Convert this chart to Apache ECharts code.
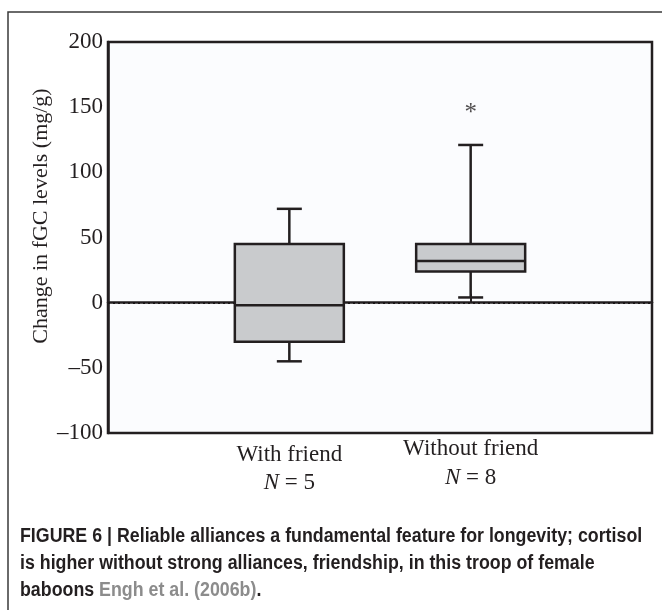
<!DOCTYPE html>
<html>
<head>
<meta charset="utf-8">
<script src="https://cdn.jsdelivr.net/npm/echarts@6/dist/echarts.min.js"></script>
<style>
html,body{margin:0;padding:0;background:#fff;}
#chart{width:662px;height:610px;}
</style>
</head>
<body>
<div id="chart"></div>
<script>
//分组名称及样本数
var groups=['With friend','Without friend'];
var groupN=[5,8];
//箱线图数据 [min, Q1, median, Q3, max]
var withFriend=[-45,-30,-2,45,72];
var withoutFriend=[4,24,32,45,121];
//离群点(星号) [组序号, 数值]
var outlier=[2,145];
//纵轴刻度
var yMin=-100, yMax=200, yStep=50;
//基线
var zeroLine=0;

var dark='#231f20';
var serif='"Liberation Serif","Times New Roman",serif';
var sans='"Liberation Sans",Arial,sans-serif';

/*
*箱体绘制
*/
function renderBox(params,api){
	var x=api.value(0);
	var lo=api.coord([x,api.value(1)]);
	var q1=api.coord([x,api.value(2)]);
	var med=api.coord([x,api.value(3)]);
	var q3=api.coord([x,api.value(4)]);
	var hi=api.coord([x,api.value(5)]);
	var hw=54.5, cw=12.5;
	var st={stroke:dark,lineWidth:2.5,fill:null};
	return {type:'group',children:[
		{type:'line',shape:{x1:lo[0],y1:lo[1],x2:q1[0],y2:q1[1]},style:st},
		{type:'line',shape:{x1:q3[0],y1:q3[1],x2:hi[0],y2:hi[1]},style:st},
		{type:'line',shape:{x1:lo[0]-cw,y1:lo[1],x2:lo[0]+cw,y2:lo[1]},style:st},
		{type:'line',shape:{x1:hi[0]-cw,y1:hi[1],x2:hi[0]+cw,y2:hi[1]},style:st},
		{type:'rect',shape:{x:q3[0]-hw,y:q3[1],width:hw*2,height:q1[1]-q3[1]},
			style:{fill:'#c9cbcd',stroke:dark,lineWidth:2.5}},
		{type:'line',shape:{x1:med[0]-hw,y1:med[1],x2:med[0]+hw,y2:med[1]},style:st}
	]};
}

var cats=[''].concat(groups).concat(['']);
var boxData=[[1].concat(withFriend),[2].concat(withoutFriend)];

var chart=echarts.init(document.getElementById('chart'));
var option={
	backgroundColor:'#fff',
	animation:false,
	grid:{left:108,top:42,right:10,bottom:177,show:true,backgroundColor:'#fbfcfe',
		borderColor:dark,borderWidth:2.5},
	xAxis:{
		type:'category',data:cats,boundaryGap:false,
		axisLine:{lineStyle:{color:dark,width:2.5}},
		axisTick:{inside:true,length:9,lineStyle:{color:dark,width:2},
			interval:function(i){return i===1||i===2;}},
		axisLabel:{
			interval:0,margin:8,color:dark,
			formatter:function(v){
				var i=groups.indexOf(v);
				if(i<0){return '';}
				//第二组标签略高
				if(i===1){
					return '{t1|'+v+'}\n{n2|N}{t2| = '+groupN[i]+'}';
				}
				return '{t|'+v+'}\n{n|N}{t| = '+groupN[i]+'}';
			},
			rich:{
				t:{fontFamily:serif,fontSize:23,lineHeight:28,color:dark},
				n:{fontFamily:serif,fontSize:23,lineHeight:28,fontStyle:'italic',color:dark},
				t1:{fontFamily:serif,fontSize:23,lineHeight:16,color:dark},
				t2:{fontFamily:serif,fontSize:23,lineHeight:42,color:dark},
				n2:{fontFamily:serif,fontSize:23,lineHeight:42,fontStyle:'italic',color:dark}
			}
		},
		splitLine:{show:false}
	},
	yAxis:{
		type:'value',min:yMin,max:yMax,interval:yStep,
		axisLine:{show:true,lineStyle:{color:dark,width:2.5}},
		axisTick:{inside:true,length:10,lineStyle:{color:dark,width:2}},
		axisLabel:{margin:5,color:dark,fontFamily:serif,fontSize:23,
			formatter:function(v){return v<0?'\u2013'+(-v):''+v;}},
		splitLine:{show:false}
	},
	series:[
		{
			type:'scatter',z:1,
			data:[outlier],
			symbolSize:0,
			label:{show:true,position:'inside',formatter:'*',fontFamily:serif,
				fontSize:25,color:dark},
			markLine:{
				silent:true,symbol:'none',z:1,
				label:{show:false},
				lineStyle:{color:'#1a1617',width:2,type:[2,3]},
				data:[{yAxis:zeroLine}]
			}
		},
		{
			type:'custom',z:3,
			renderItem:renderBox,
			data:boxData
		}
	],
	graphic:[
		{type:'rect',z:-1,shape:{x:8,y:12,width:800,height:800},
			style:{fill:null,stroke:'#3a3a3a',lineWidth:1.5}},
		{type:'text',x:41,y:216,rotation:Math.PI/2,
			style:{text:'Change in fGC levels (mg/g)',fontFamily:serif,fontSize:22,
				fill:dark,align:'center',verticalAlign:'middle'}},
		{type:'text',x:20,y:523,scaleX:0.89,
			style:{
				text:'{b|FIGURE 6 | Reliable alliances a fundamental feature for longevity; cortisol}\n'+
					'{b|is higher without strong alliances, friendship, in this troop of female}\n'+
					'{b|baboons }{g|Engh et al. (2006b)}{b|.}',
				rich:{
					b:{fontFamily:sans,fontWeight:'bold',fontSize:20,lineHeight:27,fill:dark},
					g:{fontFamily:sans,fontWeight:'bold',fontSize:20,lineHeight:27,fill:'#8c8c8c'}
				}
			}}
	]
};
chart.setOption(option);
</script>
</body>
</html>
